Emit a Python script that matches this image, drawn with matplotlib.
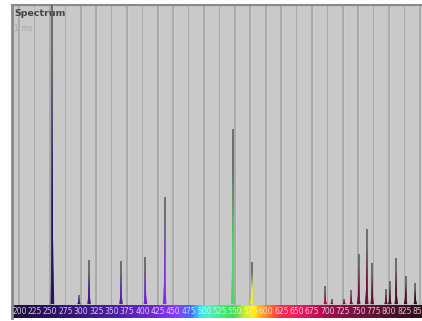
import numpy as np
import matplotlib
matplotlib.use("Agg")
import matplotlib.pyplot as plt
from matplotlib.colors import LinearSegmentedColormap, to_rgb
from matplotlib.collections import LineCollection

# Hg-Ar lamp lines (nm, relative intensity in % of full scale)
line_nm = [253.7, 296.7, 313.2, 365.0, 404.7, 435.8, 546.1, 577.0,
           696.5, 706.7, 727.3, 738.4, 750.4, 763.5, 772.4, 794.8,
           801.0, 811.5, 826.5, 842.5]
line_int = [110, 3.2, 14.7, 14.5, 15.6, 35.9, 58.4, 14.1,
            6.0, 1.7, 1.8, 4.7, 16.6, 25.1, 13.6, 4.9,
            7.7, 15.3, 9.4, 6.9]
tick_nm = list(range(200, 876, 25))

x0, x1 = 188.2, 853.2
# wavelength -> colour, used for the strip and the peaks
wl_stops = [x0, 250, 350, 420, 455, 478, 492, 505, 530, 548, 566, 580, 600, 625, 655, 700, 760, x1]
wl_cols = ['#1c0c38', '#2a1264', '#4a1ea0', '#7428d8', '#8a3cff', '#3f6cff', '#38d8ff',
           '#50f0c8', '#3cf070', '#48d85a', '#c8f030', '#ffee10', '#ff8a20', '#ff2a4a',
           '#f01860', '#a01048', '#6e1038', '#2e0c18']
cmap = LinearSegmentedColormap.from_list(
    'wl', [((w - x0) / (x1 - x0), c) for w, c in zip(wl_stops, wl_cols)])

def wl_color(w):
    return np.array(cmap((w - x0) / (x1 - x0))[:3])

W, H = 422, 321
fig = plt.figure(figsize=(W / 100, H / 100), dpi=100)
fig.patch.set_facecolor('white')

ax = fig.add_axes([12 / W, (H - 305) / H, 410 / W, 300 / H])
cb = fig.add_axes([12 / W, (H - 318) / H, 410 / W, 13 / H])

ax.set_facecolor('#c9c9c9')
ax.set_xlim(x0, x1)
ax.set_ylim(-0.3, 100)
for t in tick_nm:
    ax.axvline(t, color='#a4a4a4', lw=1.2, zorder=1)
    ax.axvline(t + 1.0, color='#d0d0d0', lw=0.6, zorder=1)

# each line drawn as a narrow spike: coloured base fading into a grey tip
w = 3.0
dx = np.array([-w, -0.35 * w, -0.12 * w, 0, 0.12 * w, 0.35 * w, w])
fy = np.array([0, 0.2, 0.55, 1, 0.55, 0.2, 0])
tip = np.array(to_rgb('#5e5e5e'))
for nm, h in zip(line_nm, line_int):
    c = wl_color(nm)
    ax.fill(nm + dx, h * fy, color=c, lw=0, zorder=3)
    ys = np.linspace(0, h, 41)
    segs = [[(nm, ys[i]), (nm, ys[i + 1])] for i in range(40)]
    f = np.clip((ys[:-1] / h - 0.3) / 0.45, 0, 1)
    cols = [c * (1 - k) + tip * k for k in f]
    ax.add_collection(LineCollection(segs, colors=cols, linewidths=1.2, zorder=4))

ax.set_xticks([])
ax.set_yticks([])
for s in ['right', 'bottom']:
    ax.spines[s].set_visible(False)
ax.spines['top'].set_color('#8a8a8a')
ax.spines['top'].set_linewidth(1.5)
ax.spines['left'].set_color('#8a8a8a')
ax.spines['left'].set_linewidth(2)

ax.text(2 / 410, 0.985, 'Spectrum', transform=ax.transAxes, fontsize=6.8,
        fontweight='bold', color='#454545', va='top', ha='left')
ax.text(2 / 410, 0.938, '1 ms', transform=ax.transAxes, fontsize=5.5,
        color='#a8a8a8', va='top', ha='left')

# wavelength strip with labels
grad = np.linspace(x0, x1, 600)[None, :]
cb.imshow(grad, aspect='auto', cmap=cmap, extent=[x0, x1, 0, 1],
          vmin=x0, vmax=x1)
cb.set_xlim(x0, x1)
cb.set_ylim(0, 1)
for t in tick_nm:
    cb.text(t, 0.48, str(t), fontsize=5.5, color='#f2eaff', alpha=0.85,
            ha='center', va='center')
cb.set_xticks([])
cb.set_yticks([])
for s in cb.spines.values():
    s.set_visible(False)
cb.spines['left'].set_visible(True)
cb.spines['left'].set_color('#8a8a8a')
cb.spines['left'].set_linewidth(2)

fig.savefig('out.png', dpi=100)
